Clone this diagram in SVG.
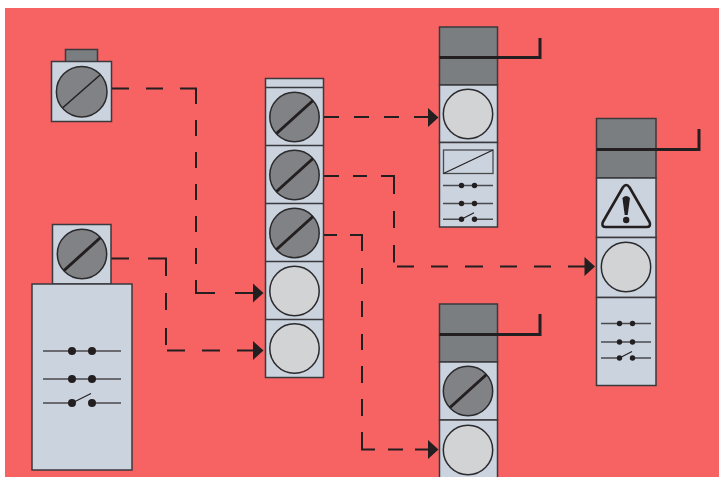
<svg xmlns="http://www.w3.org/2000/svg" width="719" height="477" viewBox="0 0 719 477">
<style>
.panel{fill:#cbd3de;stroke:#3a3a3e;stroke-width:1.5}
.dark{fill:#7b7e80;stroke:#3a3a3e;stroke-width:1.5}
.lamp{fill:#d2d3d5;stroke:#2b2a2c;stroke-width:1.5}
.knob{fill:#808285;stroke:#2b2a2c;stroke-width:1.5}
.slash{stroke:#231f20;stroke-width:3;fill:none}
.wire{fill:none;stroke:#231f20;stroke-width:2}
.hook{fill:none;stroke:#231f20;stroke-width:3}
.sw{stroke:#4a4a4d;stroke-width:1.5;fill:none}
.swthin{stroke:#231f20;stroke-width:1.2;fill:none}
.dot{fill:#231f20}
.head{fill:#231f20}
</style>
<defs>
<g id="k"><circle class="knob" r="24.7"/><path class="slash" d="M-18 16.500L18.500-16.500"/></g>
<g id="l"><circle class="lamp" r="24.7"/></g>
<g id="cs"><path class="sw" d="M-25 0H25"/><circle class="dot" cx="-6.500" r="2.700"/><circle class="dot" cx="6.500" r="2.700"/></g>
<g id="os"><path class="sw" d="M-25 0H-6.500M6.500 0H25"/><path class="swthin" d="M-6.500 0L6 -6.500"/><circle class="dot" cx="-6.500" r="2.700"/><circle class="dot" cx="6.500" r="2.700"/></g>
<path id="a" class="head" d="M0 -9.500L10.500 0L0 9.500Z"/>
</defs>
<rect x="5" y="8" width="714" height="469" fill="#f76262"/>

<g id="connectors">
<path class="wire" stroke-dasharray="17 17 17 17 31.500 16 16 16 16 16 16 16 16 16 16 16 32 20 18 100" d="M112 88.500H196V293H253"/>
<use href="#a" x="253" y="293"/>
<path class="wire" stroke-dasharray="18 19 35.500 17 17 18 17 6.500 18 17 18 17 16 100" d="M111 258.500H166V350.500H253"/>
<use href="#a" x="253" y="350.500"/>
<path class="wire" stroke-dasharray="15 15" d="M324 117H428"/>
<use href="#a" x="428" y="117.500"/>
<path class="wire" stroke-dasharray="15 14 14 14 31 17 17 17 17.500 7 17 17 17 17 18 17 17 17 17 17 17 100" d="M324 176H394V266.500H585"/>
<use href="#a" x="584.500" y="266.500"/>
<path class="wire" stroke-dasharray="13 13 28 17 16 17 16 17 16 16 17 16 17 16 30.500 13 15 12 13 100" d="M324 235H362V449.500H428"/>
<use href="#a" x="428" y="449.500"/>
</g>

<g id="node-top-left">
<rect class="dark" x="65.500" y="49.500" width="32" height="12.500"/>
<rect class="panel" x="51.500" y="61.500" width="60" height="60"/>
<circle class="knob" cx="81.700" cy="91.700" r="25.300"/>
<path class="swthin" style="stroke-width:1.500" d="M63 107.500L100 75"/>
</g>

<g id="node-bottom-left">
<rect class="panel" x="52.500" y="224.500" width="58.500" height="59.500"/>
<use href="#k" x="82" y="254"/>
<rect class="panel" x="32" y="284" width="100" height="186"/>
<path class="sw" d="M43 351H121M43 379H121M43 403H72M92 403H121"/>
<path class="swthin" d="M72 403L91 393.500"/>
<g class="dot">
<circle cx="72" cy="351" r="4"/><circle cx="92" cy="351" r="4"/>
<circle cx="72" cy="379" r="4"/><circle cx="92" cy="379" r="4"/>
<circle cx="72" cy="403" r="4"/><circle cx="92" cy="403" r="4"/>
</g>
</g>

<g id="node-center">
<rect class="panel" x="265.500" y="78.500" width="58" height="299"/>
<path class="panel" d="M265.500 87.500H323.500M265.500 145.500H323.500M265.500 203.500H323.500M265.500 261.500H323.500M265.500 319.500H323.500"/>
<use href="#k" x="294.500" y="117"/>
<use href="#k" x="294.500" y="175"/>
<use href="#k" x="294.500" y="233"/>
<use href="#l" x="294.500" y="291"/>
<use href="#l" x="294.500" y="348.500"/>
</g>

<g id="node-top-right">
<rect class="dark" x="439.500" y="27" width="58" height="58"/>
<rect class="panel" x="439.500" y="85" width="58" height="57.500"/>
<rect class="panel" x="439.500" y="142.500" width="58" height="84.500"/>
<path class="hook" d="M439.500 57.500H540V38"/>
<use href="#l" x="468" y="114"/>
<rect x="443.500" y="150" width="49.500" height="23.500" fill="none" stroke="#4a4a4d" stroke-width="1.300"/>
<path class="swthin" d="M443.500 173.500L493 150"/>
<use href="#cs" x="468" y="185.500"/>
<use href="#cs" x="468" y="203.500"/>
<use href="#os" x="468" y="219.300"/>
</g>

<g id="node-right">
<rect class="dark" x="596.500" y="118.500" width="59.500" height="59.500"/>
<rect class="panel" x="596.500" y="178" width="59.500" height="59.500"/>
<rect class="panel" x="596.500" y="237.500" width="59.500" height="60"/>
<rect class="panel" x="596.500" y="297.500" width="59.500" height="88"/>
<path class="hook" d="M596.500 149.500H699V129"/>
<path d="M622.800 187.500Q626.200 182.500 629.600 187.500L649.500 222Q651.500 227 646.500 227H605.900Q600.900 227 602.900 222Z" fill="none" stroke="#231f20" stroke-width="2.600" stroke-linejoin="round"/>
<path class="dot" d="M622.400 198Q626.200 194 630 198L627.700 215H624.700Z"/>
<circle class="dot" cx="626.200" cy="220" r="3.200"/>
<use href="#l" x="626" y="267"/>
<use href="#cs" x="626" y="323.500"/>
<use href="#cs" x="626" y="342"/>
<use href="#os" x="626" y="358"/>
</g>

<g id="node-bottom-right">
<rect class="dark" x="439.500" y="304" width="58" height="58"/>
<rect class="panel" x="439.500" y="362" width="58" height="58"/>
<rect class="panel" x="439.500" y="420" width="58" height="70"/>
<path class="hook" d="M439.500 334.500H540V314"/>
<use href="#k" x="468" y="391"/>
<use href="#l" x="468" y="450"/>
</g>
</svg>
